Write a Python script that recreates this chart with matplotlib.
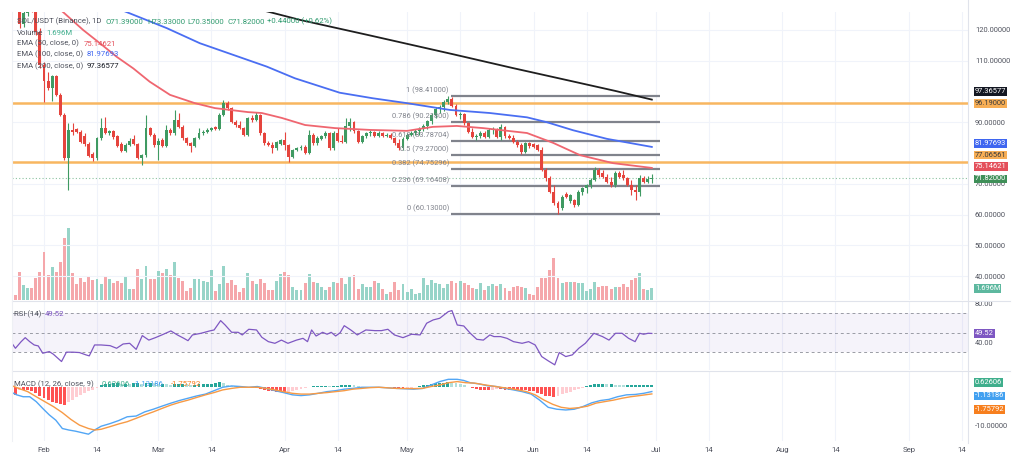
import matplotlib
matplotlib.use("Agg")
import matplotlib.pyplot as plt
import numpy as np
from matplotlib.lines import Line2D

plt.rcParams["font.family"] = ["Roboto", "DejaVu Sans"]
plt.rcParams["axes.unicode_minus"] = False

# ---------------- data (day 0 = Feb 1) ----------------
first_day = -7

opens = [132.0, 128.0, 122.0, 125.5, 128.5, 127.0, 119.5, 108.6, 103.5, 101.2,
         105.0, 99.0, 92.4, 78.4, 87.5, 87.7, 86.9, 85.5, 82.8, 79.8,
         78.3, 84.8, 88.1, 86.6, 87.0, 85.5, 83.0, 80.8, 82.6, 84.5,
         83.0, 78.3, 79.2, 88.0, 86.0, 82.5, 84.2, 82.2, 87.5, 86.5,
         90.7, 88.6, 84.8, 83.1, 82.4, 84.8, 86.4, 86.9, 87.5, 88.3,
         87.8, 92.4, 96.2, 94.5, 90.2, 89.1, 88.2, 86.0, 91.3, 90.7,
         92.4, 86.4, 83.1, 82.6, 81.5, 83.0, 84.2, 82.6, 78.8, 80.9,
         81.5, 82.0, 80.0, 85.9, 83.1, 84.6, 85.4, 86.4, 81.5, 86.5,
         84.0, 83.7, 88.8, 90.0, 87.0, 83.7, 85.5, 86.4, 86.9, 85.5,
         86.5, 85.5, 86.0, 84.8, 83.1, 81.5, 84.6, 85.9, 86.6, 87.3,
         87.8, 88.8, 90.3, 92.4, 94.3, 95.0, 96.7, 97.6, 95.2, 92.4,
         92.8, 89.6, 86.9, 85.3, 85.6, 86.4, 85.3, 87.5, 87.8, 85.3,
         88.5, 85.6, 84.8, 83.7, 82.6, 80.4, 83.1, 83.0, 82.6, 81.0,
         74.5, 71.8, 67.4, 63.6, 62.0, 66.6, 64.4, 64.7, 63.1, 67.4,
         68.5, 69.6, 71.2, 74.5, 73.6, 72.3, 70.7, 69.6, 73.4, 72.8,
         71.8, 69.6, 68.0, 67.4, 71.8, 70.7, 71.39]
highs = [134.0, 130.0, 127.5, 130.0, 131.0, 129.0, 120.5, 109.5, 106.5, 105.5,
         105.5, 99.5, 93.0, 89.7, 89.6, 88.2, 87.6, 86.5, 83.6, 80.3,
         85.3, 91.4, 91.8, 87.6, 87.4, 86.0, 83.5, 83.2, 84.8, 85.8,
         83.4, 79.7, 92.4, 88.6, 86.5, 85.0, 84.8, 89.0, 88.2, 94.0,
         92.9, 89.0, 85.3, 83.6, 85.3, 88.0, 87.4, 88.0, 88.6, 88.9,
         92.9, 97.2, 96.8, 95.0, 90.8, 90.5, 88.6, 91.8, 92.2, 93.4,
         92.8, 86.8, 84.0, 83.5, 84.0, 84.7, 86.9, 83.0, 81.4, 82.0,
         82.5, 82.5, 87.5, 86.4, 85.4, 86.0, 87.0, 86.8, 87.3, 88.0,
         86.0, 91.3, 91.3, 90.4, 87.4, 86.0, 86.9, 87.4, 87.3, 87.0,
         86.9, 86.5, 86.4, 85.2, 84.6, 85.1, 86.4, 87.1, 87.8, 88.5,
         89.5, 90.8, 93.0, 94.8, 95.6, 97.3, 98.41, 98.2, 95.8, 93.3,
         93.0, 90.0, 88.0, 86.2, 87.0, 87.0, 88.2, 88.4, 88.0, 89.3,
         88.8, 86.2, 85.9, 84.2, 83.3, 83.6, 83.5, 83.4, 83.0, 81.8,
         75.0, 72.5, 69.5, 64.3, 66.3, 67.3, 66.8, 65.2, 67.9, 69.0,
         70.0, 71.8, 75.6, 75.0, 74.6, 73.2, 72.3, 74.0, 74.0, 74.5,
         72.3, 71.2, 69.5, 72.8, 72.4, 72.5, 73.33]
lows = [127.0, 120.5, 121.0, 124.5, 126.0, 118.5, 107.5, 96.7, 100.5, 96.8,
        98.5, 92.0, 77.8, 68.0, 85.9, 86.4, 83.2, 82.3, 78.6, 77.4,
        77.8, 84.3, 86.1, 85.8, 84.6, 81.9, 80.3, 80.3, 82.2, 82.6,
        77.9, 76.2, 78.8, 85.5, 82.0, 77.7, 81.8, 82.0, 86.0, 86.0,
        88.0, 84.3, 82.7, 80.4, 82.0, 84.4, 86.0, 86.5, 87.1, 87.4,
        87.4, 92.0, 94.0, 89.8, 88.6, 87.8, 85.5, 85.6, 90.2, 90.3,
        86.0, 82.7, 82.2, 79.9, 81.1, 82.5, 81.0, 77.2, 78.4, 80.5,
        81.1, 79.6, 79.6, 82.7, 82.7, 84.1, 84.9, 81.1, 81.0, 83.5,
        83.2, 83.3, 87.3, 86.6, 83.3, 83.3, 84.9, 85.4, 85.1, 85.1,
        85.1, 85.1, 84.4, 82.7, 80.9, 81.1, 84.2, 85.5, 86.0, 86.0,
        87.0, 87.8, 89.5, 91.5, 93.0, 93.8, 95.8, 94.8, 92.0, 91.0,
        89.0, 86.5, 84.8, 84.3, 85.0, 85.0, 84.8, 86.2, 85.0, 84.2,
        85.0, 84.4, 83.2, 82.0, 79.8, 80.0, 81.6, 81.6, 80.5, 74.0,
        71.0, 67.0, 63.0, 60.13, 61.5, 65.3, 63.8, 62.6, 62.9, 66.5,
        67.0, 68.5, 70.8, 72.3, 71.8, 70.2, 69.0, 68.8, 71.8, 71.2,
        69.2, 66.5, 64.7, 66.0, 70.2, 70.3, 70.35]
closes = [128.0, 122.0, 125.5, 128.5, 127.0, 119.5, 108.6, 103.5, 101.2, 105.0,
          99.0, 92.4, 78.4, 87.5, 86.9, 86.9, 83.6, 82.8, 79.0, 78.3,
          84.8, 88.1, 86.6, 87.0, 85.1, 82.4, 80.8, 82.6, 84.0, 83.0,
          78.3, 79.2, 88.0, 86.0, 82.5, 83.8, 82.2, 87.5, 86.5, 90.7,
          88.6, 84.8, 83.1, 82.4, 84.8, 86.4, 86.9, 87.5, 88.0, 87.8,
          92.4, 96.2, 94.5, 90.2, 89.1, 88.2, 86.0, 91.3, 90.7, 92.4,
          86.4, 83.1, 82.6, 81.5, 83.6, 84.2, 82.6, 78.8, 80.9, 81.5,
          82.0, 80.0, 85.9, 83.1, 84.8, 85.4, 86.4, 81.5, 86.5, 84.0,
          83.7, 88.8, 90.0, 87.0, 83.7, 85.5, 86.4, 86.9, 85.5, 86.5,
          85.5, 86.0, 84.8, 83.1, 81.5, 84.6, 85.9, 86.6, 87.3, 87.8,
          88.8, 90.3, 92.4, 94.3, 95.0, 96.7, 97.6, 95.2, 92.4, 92.8,
          89.6, 86.9, 85.3, 85.6, 86.4, 85.3, 87.5, 87.8, 85.3, 88.5,
          85.6, 84.8, 83.7, 82.6, 80.4, 83.1, 82.3, 82.1, 81.0, 74.5,
          71.8, 67.4, 63.6, 62.0, 65.8, 65.8, 66.3, 63.1, 67.4, 68.5,
          69.6, 71.2, 74.5, 72.8, 72.3, 70.7, 69.6, 73.4, 72.3, 71.8,
          69.6, 68.0, 67.4, 71.8, 70.7, 71.39, 71.82]
volume_m = [0.7, 4.1, 2.2, 1.8, 1.8, 3.25, 4.1, 7.0, 3.6, 4.8,
            4.0, 5.5, 9.0, 10.4, 3.9, 2.3, 3.25, 2.6, 3.3, 2.9,
            3.0, 2.3, 3.4, 3.1, 2.4, 2.8, 2.5, 3.3, 1.6, 1.6,
            4.5, 3.1, 4.9, 3.0, 3.0, 4.2, 3.9, 4.5, 3.7, 5.5,
            3.25, 2.8, 1.3, 1.8, 3.1, 3.1, 2.7, 2.6, 4.4, 1.3,
            2.3, 4.9, 2.5, 2.9, 2.2, 1.1, 1.75, 3.9, 2.7, 2.3,
            3.1, 2.45, 1.5, 1.5, 2.7, 3.8, 4.1, 3.7, 1.9, 1.45,
            1.45, 2.4, 3.8, 2.6, 2.4, 1.9, 1.45, 1.9, 2.6, 2.4,
            3.15, 2.28, 3.39, 3.63, 1.6, 2.28, 1.94, 1.84, 2.76, 2.52,
            1.55, 0.93, 1.22, 2.57, 1.41, 2.28, 1.22, 1.6, 0.93, 1.02,
            3.15, 2.13, 2.96, 2.52, 2.28, 1.74, 2.28, 2.81, 2.47, 2.81,
            2.42, 2.23, 1.7, 1.65, 2.47, 1.41, 2.09, 2.28, 1.99, 2.28,
            1.7, 1.31, 1.94, 1.99, 1.94, 1.8, 0.87, 0.73, 1.94, 3.15,
            3.15, 4.31, 6.05, 3.15, 2.52, 2.67, 2.67, 2.57, 2.52, 2.52,
            1.31, 1.55, 2.67, 1.89, 2.09, 1.98, 1.6, 1.94, 1.94, 2.28,
            1.94, 2.96, 3.15, 3.87, 1.6, 1.45, 1.696]

ema50_days = [-8, 4.7, 9.6, 13.7, 17.8, 21.9, 25.9, 30.9, 37, 41.9, 50, 53.4,
              58.3, 64, 71.3, 80, 89, 95.3, 101.2, 107.6, 118.4, 124.8,
              131.4, 139.5, 149]
ema50_vals = [140, 125.8, 120.0, 115.7, 111.3, 107.5, 103.2, 98.9, 96.2, 94.6,
              93.3, 93.0, 91.4, 89.1, 88.1, 87.5, 87.2, 88.5, 88.8, 88.1,
              86.5, 83.3, 79.3, 76.7, 75.14621]
ema100_days = [-8, 20.3, 30.1, 38.2, 46.4, 54.6, 61.5, 72.5, 80.6, 89, 99.5,
               109.3, 118.4, 123.3, 129.7, 138, 149]
ema100_vals = [141, 125.8, 120.6, 115.7, 111.9, 108.1, 104.3, 99.6, 97.8, 96.2,
               94.0, 93.0, 91.6, 90.0, 87.4, 84.6, 81.97693]
ema200_days = [40, 55.4, 62.7, 80, 100, 115, 128.2, 140, 149]
ema200_vals = [131.0, 125.8, 123.3, 118.2, 112.2, 107.6, 103.7, 100.2, 97.36577]

levels = [96.19, 77.06561]
last_close = 71.82

fib_ratios = ["1", "0.786", "0.618", "0.5", "0.382", "0.236", "0"]
fib_prices = [98.41, 90.218, 83.78704, 79.27, 74.75296, 69.16408, 60.13]
fib_from, fib_to = 99.75, 151

rsi_days = [-8.3, -7.0, -5.6, -4.6, -3.5, -2.4, -1.4, -0.3, 1.3, 2.3, 4.3, 5.5,
            7.1, 8.7, 10.3, 11.1, 12.4, 14.0, 16.2, 17.8, 19.4, 21.0, 22.6,
            24.1, 25.7, 27.3, 28.9, 31.1, 32.7, 34.3, 35.3, 36.4, 38.5, 40.6,
            41.7, 43.3, 44.4, 46.0, 47.6, 48.6, 50.2, 52.1, 53.4, 55.0, 56.6,
            58.2, 59.8, 61.9, 63.5, 64.6, 65.6, 66.7, 68.3, 69.4, 70.4, 71.5,
            72.6, 73.6, 75.2, 76.8, 78.9, 81.1, 82.7, 84.3, 85.9, 88.0, 90.1,
            92.2, 93.8, 95.4, 97.0, 99.1, 100.0, 101.3, 102.9, 104.5, 106.1,
            107.7, 109.3, 110.3, 111.9, 113.5, 115.1, 117.2, 118.8, 120.4,
            122.0, 123.6, 125.2, 126.3, 127.9, 129.5, 131.1, 132.7, 134.8,
            136.9, 138.5, 140.1, 141.7, 143.3, 144.9, 146.0, 147.0, 148.1, 149]
rsi_vals = [42.1, 34.3, 41.1, 45.2, 41.1, 37.7, 36.7, 29.2, 30.9, 28.2, 20.7,
            30.3, 30.3, 29.9, 27.5, 26.5, 37.7, 37.7, 37.0, 34.3, 38.7, 39.4,
            33.2, 47.3, 42.7, 45.2, 48.0, 52.1, 48.0, 44.5, 42.1, 48.0, 49.7,
            52.1, 53.1, 62.7, 58.2, 50.7, 50.7, 48.0, 53.8, 53.1, 45.6, 41.1,
            39.4, 42.7, 39.4, 42.7, 44.5, 41.1, 53.1, 46.9, 50.7, 48.7, 50.7,
            46.9, 50.3, 57.5, 53.1, 48.0, 53.1, 52.4, 52.4, 53.8, 48.0, 45.2,
            48.7, 48.0, 60.0, 63.4, 65.1, 71.9, 73.0, 58.2, 57.2, 49.7, 43.5,
            42.7, 48.0, 46.3, 46.3, 44.5, 41.1, 39.4, 41.1, 37.7, 25.8, 21.4,
            17.3, 29.9, 25.8, 27.5, 34.3, 39.4, 49.7, 46.3, 42.7, 49.7, 49.7,
            44.5, 41.1, 49.7, 48.7, 49.7, 49.52]

macd_days = [-8.3, -6.7, -5.1, -3.5, -1.9, -0.3, 1.3, 2.9, 4.5, 6.1, 7.7, 9.3,
             10.9, 12.4, 14.0, 16.2, 18.3, 20.4, 22.6, 24.7, 26.8, 28.9, 31.1,
             33.2, 35.3, 37.4, 39.6, 41.7, 43.8, 46.0, 48.1, 50.2, 52.3, 54.5,
             56.6, 58.7, 60.9, 63.0, 65.1, 67.2, 69.4, 71.5, 73.6, 75.7, 77.9,
             82.1, 86.4, 90.6, 92.8, 94.9, 97.0, 99.1, 101.3, 102.9, 104.5,
             106.6, 108.7, 110.9, 113.0, 115.1, 117.2, 119.4, 121.5, 123.6,
             125.7, 127.9, 130.0, 132.1, 134.3, 136.4, 138.5, 140.6, 142.8,
             144.9, 147.0, 149]
macd_vals = [-1.15, -2.0, -2.5, -2.5, -3.8, -5.6, -7.3, -8.7, -10.9, -11.3,
             -11.6, -12.0, -12.4, -11.3, -10.3, -9.6, -8.8, -7.8, -7.6, -6.5,
             -5.8, -5.0, -4.2, -3.5, -2.9, -2.3, -1.8, -0.9, 0.0, 0.35, 0.2,
             0.0, 0.2, -0.3, -0.9, -1.4, -2.0, -2.2, -2.0, -1.6, -1.15, -0.9,
             -0.5, -0.3, 0.0, 0.0, -0.3, -0.5, -0.3, 0.6, 1.5, 2.1, 2.1, 1.8,
             1.2, 0.9, 0.4, 0.2, -0.3, -0.7, -1.15, -1.8, -3.4, -5.3, -5.8,
             -6.0, -5.8, -5.1, -4.1, -3.5, -3.2, -2.5, -2.0, -1.9, -1.6, -1.13186]
signal_days = [-8.3, -6.2, -4.0, -1.9, 0.2, 2.3, 4.5, 6.6, 8.7, 10.9, 12.4,
               14.0, 16.2, 18.3, 20.4, 22.6, 24.7, 26.8, 28.9, 31.1, 33.2,
               35.3, 37.4, 39.6, 41.7, 43.8, 46.0, 48.1, 52.3, 54.5, 56.6,
               58.7, 60.9, 63.0, 65.1, 67.2, 69.4, 71.5, 73.6, 75.7, 77.9,
               80.0, 82.1, 86.4, 90.6, 92.8, 94.9, 97.0, 99.1, 101.3, 103.4,
               105.5, 107.7, 109.8, 111.9, 114.0, 116.2, 118.3, 120.4, 122.6,
               124.7, 126.8, 128.9, 131.1, 133.2, 135.3, 137.4, 139.6, 141.7,
               143.8, 146.0, 149]
signal_vals = [0.6, -0.3, -1.15, -2.5, -3.8, -5.1, -6.7, -8.5, -10.0, -10.9,
               -11.3, -11.1, -10.4, -9.7, -9.1, -8.2, -7.3, -6.5, -5.6, -4.7,
               -4.0, -3.4, -2.7, -2.0, -1.4, -0.7, -0.3, 0.0, 0.0, -0.3, -0.7,
               -1.15, -1.6, -1.8, -1.8, -1.6, -1.4, -1.15, -0.9, -0.5, -0.3,
               -0.1, 0.0, -0.3, -0.35, -0.3, 0.2, 0.6, 1.2, 1.5, 1.2, 1.1, 0.7,
               0.35, 0.0, -0.3, -0.7, -1.15, -2.0, -3.4, -4.5, -5.3, -5.6, -5.4,
               -5.0, -4.2, -3.8, -3.4, -2.9, -2.5, -2.2, -1.75792]
hist_vals = [-2.0, -0.7, -0.7, -0.7, -0.9, -1.4, -2.3, -2.8, -3.3, -3.8,
             -4.2, -4.4, -4.6, -4.0, -3.3, -2.7, -2.1, -1.6, -1.1, -0.6,
             -0.2, 0.6, 0.8, 0.9, 1.0, 1.1, 0.9, 0.9, 0.8, 1.0,
             1.0, 0.9, 1.0, 1.1, 1.0, 0.9, 0.9, 0.8, 0.7, 0.9,
             0.9, 0.9, 0.8, 0.6, 0.6, 0.8, 0.9, 0.9, 0.9, 1.1,
             1.3, 1.1, 0.6, 0.4, 0.3, 0.2, 0.1, 0.1, -0.1, -0.3,
             -0.5, -0.8, -0.9, -1.0, -1.2, -1.2, -1.4, -1.3, -1.0, -0.8,
             -0.5, -0.2, 0.2, 0.3, 0.3, 0.4, 0.4, 0.3, 0.4, 0.4,
             0.5, 0.6, 0.6, 0.5, 0.3, 0.2, 0.1, 0.1, 0.1, 0.05,
             0.1, 0.1, -0.05, -0.2, -0.3, -0.3, -0.2, -0.1, 0.1, 0.3,
             0.5, 0.7, 0.9, 1.0, 1.1, 1.2, 1.3, 1.2, 1.0, 0.8,
             0.5, 0.2, -0.2, -0.5, -0.6, -0.7, -0.7, -0.6, -0.5, -0.5,
             -0.6, -0.7, -0.7, -0.8, -0.8, -0.8, -0.9, -1.1, -1.5, -1.9,
             -2.2, -2.4, -2.5, -2.2, -1.8, -1.5, -1.2, -0.8, -0.4, -0.1,
             0.4, 0.6, 0.8, 0.8, 0.9, 0.8, 0.8, 0.7, 0.6, 0.5,
             0.5, 0.5, 0.6, 0.6, 0.6, 0.6, 0.62606]

tick_days = [0, 13, 28, 41, 59, 72, 89, 102, 120, 133, 150, 163, 181, 194, 212, 225]
tick_labels = ["Feb", "14", "Mar", "14", "Apr", "14", "May", "14", "Jun", "14",
               "Jul", "14", "Aug", "14", "Sep", "14"]

days = np.arange(first_day, first_day + len(closes))

# ---------------- layout ----------------
W, H = 1024, 457
fig = plt.figure(figsize=(W / 100, H / 100), dpi=100)


def box(x0, y0, x1, y1):
    return [x0 / W, 1 - y1 / H, (x1 - x0) / W, (y1 - y0) / H]


GRID = "#f0f3fa"
TXT = "#50535e"
UP, DOWN = "#3f9a62", "#e5443d"
FS = 5.4

ax_v = fig.add_axes(box(12, 12, 968, 300))
ax_p = fig.add_axes(box(12, 12, 968, 300))
ax_r = fig.add_axes(box(12, 302, 968, 370))
ax_m = fig.add_axes(box(12, 371, 968, 441))

for ax in (ax_v, ax_p, ax_r, ax_m):
    ax.set_xlim(-7.84, 226.5)
    for s in ax.spines.values():
        s.set_visible(False)
    ax.set_xticks(tick_days)
    ax.tick_params(axis="x", length=0, labelbottom=False)
    ax.tick_params(axis="y", length=0, labelsize=FS, labelcolor=TXT, pad=5)
    ax.yaxis.tick_right()
    ax.set_axisbelow(True)

ax_p.patch.set_visible(False)
ax_v.grid(True, axis="x", color=GRID, lw=0.8)
ax_p.grid(True, axis="y", color=GRID, lw=0.8)
ax_r.grid(True, axis="x", color=GRID, lw=0.8)
ax_m.grid(True, axis="x", color=GRID, lw=0.8)


def tag(ax, y, text, fc, tc="white", dy=0.0):
    ax.annotate(text, xy=(1, y), xycoords=("axes fraction", "data"),
                xytext=(5, dy), textcoords="offset points", ha="left", va="center",
                fontsize=FS, color=tc, annotation_clip=False, zorder=20,
                bbox=dict(boxstyle="square,pad=0.12", fc=fc, ec="none"))


# volume
up = [c >= o for o, c in zip(opens, closes)]
vcol = ["#97d4c8" if u else "#f5a7ab" for u in up]
ax_v.bar(days, volume_m, width=0.72, color=vcol, linewidth=0)
ax_v.set_ylim(0, 41.8)
ax_v.set_yticks([])

# price candles
ccol = [UP if u else DOWN for u in up]
ax_p.vlines(days, lows, highs, colors=ccol, lw=0.8, zorder=3)
lo = np.minimum(opens, closes)
ht = np.maximum(np.abs(np.array(closes) - np.array(opens)), 0.2)
ax_p.bar(days, ht, bottom=lo, width=0.72, color=ccol, linewidth=0, zorder=3)

ax_p.plot(ema50_days, ema50_vals, color="#ef6670", lw=1.3, zorder=4)
ax_p.plot(ema100_days, ema100_vals, color="#4a6ef2", lw=1.3, zorder=4)
ax_p.plot(ema200_days, ema200_vals, color="#1e1e1e", lw=1.3, zorder=4)

for lv in levels:
    ax_p.axhline(lv, color="#f8b660", lw=1.8, zorder=2)
ax_p.axhline(last_close, color="#3f9a62", lw=0.8, ls=(0, (1, 2)), alpha=0.6, zorder=2)

ax_p.hlines(fib_prices, fib_from, fib_to, colors="#80838c", lw=1.6, zorder=2)
for r, p in zip(fib_ratios, fib_prices):
    ax_p.annotate(f"{r} ({p:.5f})", xy=(fib_from - 0.5, p), xytext=(0, 1.2),
                  textcoords="offset points", ha="right", va="bottom",
                  fontsize=FS, color="#80838c", zorder=5)

ax_p.set_ylim(32.2, 125.85)
pticks = [40, 50, 60, 70, 90, 110, 120]
ax_p.set_yticks(pticks)
ax_p.set_yticklabels([f"{v:.5f}" for v in pticks])

tag(ax_p, ema200_vals[-1], "97.36577", "#131722", dy=5.8)
tag(ax_p, levels[0], "96.19000", "#f7ae55", tc="#3a3a3a", dy=-0.3)
tag(ax_p, ema100_vals[-1], "81.97693", "#3f66f0", dy=2.6)
tag(ax_p, levels[1], "77.06561", "#f7ae55", tc="#3a3a3a", dy=5.0)
tag(ax_p, ema50_vals[-1], "75.14621", "#e4505b", dy=1.1)
tag(ax_p, last_close, "71.82000", "#3f8f58", dy=-0.6)
tag(ax_v, volume_m[-1], "1.696M", "#5db89f")

# RSI
ax_r.axhspan(30, 70, color="#7e57c2", alpha=0.07, lw=0)
for lv in (70, 50, 30):
    ax_r.axhline(lv, color="#9a9ca5", lw=0.7, ls=(0, (3, 3)))
ax_r.plot(rsi_days, rsi_vals, color="#7e57c2", lw=0.9)
ax_r.set_ylim(12, 81.8)
ax_r.set_yticks([40, 80])
ax_r.set_yticklabels(["40.00", "80.00"])
tag(ax_r, rsi_vals[-1], "49.52", "#7e57c2")

# MACD
hcol = []
prev = hist_vals[0]
for h in hist_vals:
    if h >= 0:
        hcol.append("#26a69a" if h >= prev else "#b2dfdb")
    else:
        hcol.append("#ffcdd2" if h > prev else "#ff5252")
    prev = h
ax_m.bar(days, hist_vals, width=0.72, color=hcol, linewidth=0)
ax_m.plot(macd_days, macd_vals, color="#52a6f5", lw=1.0)
ax_m.plot(signal_days, signal_vals, color="#f79a45", lw=1.0)
ax_m.set_ylim(-14.2, 4.3)
ax_m.set_yticks([-10])
ax_m.set_yticklabels(["-10.00000"])
ax_m.tick_params(axis="x", labelbottom=True, labelsize=FS + 0.2, labelcolor=TXT, pad=4)
ax_m.set_xticklabels(tick_labels)
tag(ax_m, hist_vals[-1], "0.62606", "#3fae8c", dy=1.5)
tag(ax_m, macd_vals[-1], "-1.13186", "#42a0f0", dy=-3.2)
tag(ax_m, signal_vals[-1], "-1.75792", "#f77f1e", dy=-11.0)

# separators
for y in (301, 370.5):
    fig.add_artist(Line2D([12 / W, 1010 / W], [1 - y / H] * 2, color="#e0e3eb", lw=0.8))
fig.add_artist(Line2D([968 / W] * 2, [1, 1 - 443 / H], color="#e0e3eb", lw=0.8))
fig.add_artist(Line2D([12 / W] * 2, [1 - 12 / H, 1 - 441 / H], color="#eef0f4", lw=0.8))


def ftxt(x, y, s, color=TXT, **kw):
    fig.text(x / W, 1 - y / H, s, color=color, fontsize=FS + 0.2, va="center", **kw)


GRN = "#2f9a6e"
ftxt(17, 21.5, "SOL/USDT (Binance), 1D")
ftxt(106, 21.5, "O71.39000", GRN)
ftxt(147, 21.5, "H73.33000", GRN)
ftxt(187, 21.5, "L70.35000", GRN)
ftxt(227, 21.5, "C71.82000", GRN)
ftxt(267, 21.5, "+0.44000 (+0.62%)", GRN)
ftxt(17, 33, "Volume")
ftxt(46, 33, "1.696M", "#3fae8c")
ftxt(17, 43.5, "EMA (50, close, 0)")
ftxt(84, 43.5, "75.14621", "#e4505b")
ftxt(17, 54.5, "EMA (100, close, 0)")
ftxt(87, 54.5, "81.97693", "#3f66f0")
ftxt(17, 66, "EMA (200, close, 0)")
ftxt(87, 66, "97.36577", "#131722")
ftxt(14, 314, "RSI (14)")
ftxt(45, 314, "49.52", "#7e57c2")
ftxt(14, 384, "MACD (12, 26, close, 9)")
ftxt(102, 384, "0.62606", "#3fae8c")
ftxt(134, 384, "-1.13186", "#42a0f0")
ftxt(171, 384, "-1.75792", "#f77f1e")

fig.savefig("out.png", dpi=100)
